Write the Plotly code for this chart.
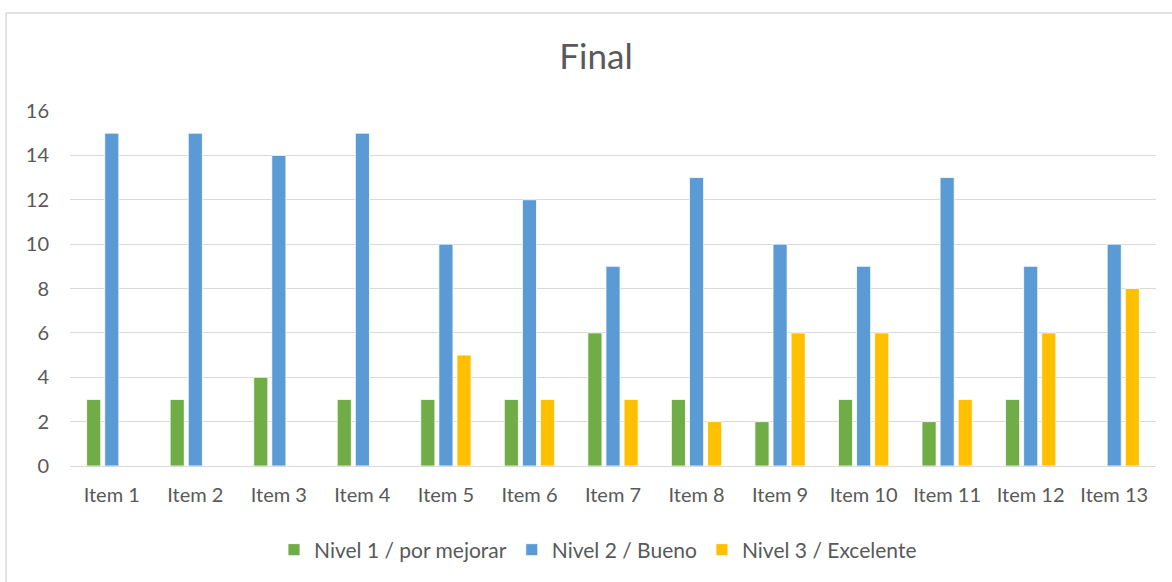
import plotly.graph_objects as go

categories = ["Item 1", "Item 2", "Item 3", "Item 4", "Item 5", "Item 6", "Item 7",
              "Item 8", "Item 9", "Item 10", "Item 11", "Item 12", "Item 13"]
nivel1 = [3, 3, 4, 3, 3, 3, 6, 3, 2, 3, 2, 3, None]
nivel2 = [15, 15, 14, 15, 10, 12, 9, 13, 10, 9, 13, 9, 10]
nivel3 = [None, None, None, None, 5, 3, 3, 2, 6, 6, 3, 6, 8]

names = ["Nivel 1 / por mejorar", "Nivel 2 / Bueno", "Nivel 3 / Excelente"]
colors = ["#70AD47", "#5B9BD5", "#FFC000"]

FONT = "Lato, 'Open Sans', sans-serif"
TXT = "#595959"

fig = go.Figure()
for name, vals, col in zip(names, [nivel1, nivel2, nivel3], colors):
    fig.add_trace(go.Bar(x=categories, y=vals, name=name, marker_color=col,
                         marker_line=dict(color="white", width=0.8)))

W, H = 1172, 582
L, R, T, B = 70, 16, 111, 116
pw, ph = W - L - R, H - T - B

def px(x):
    return (x - L) / pw

def py(y):
    return (H - B - y) / ph

fig.update_layout(
    width=W, height=H,
    margin=dict(l=L, r=R, t=T, b=B),
    paper_bgcolor="white", plot_bgcolor="white",
    barmode="group", bargap=0.35, bargroupgap=0.22,
    font=dict(family=FONT, color=TXT, size=20),
    title=dict(text="Final", x=596 / W, xanchor="center", xref="container",
               y=1 - 57 / H, yanchor="middle",
               font=dict(size=35, color=TXT, family=FONT)),
    legend=dict(orientation="h", x=px(598), xanchor="center", y=py(550), yanchor="middle",
                font=dict(size=21, color=TXT, family=FONT), traceorder="normal",
                itemwidth=30),
    xaxis=dict(showgrid=False, showline=False, ticks="", tickfont=dict(size=20),
               ticklabelstandoff=15),
    yaxis=dict(range=[0, 16], dtick=2, showgrid=True, gridcolor="#D9D9D9", gridwidth=1,
               zeroline=True, zerolinecolor="#D9D9D9", zerolinewidth=1,
               showline=False, ticks="", tickfont=dict(size=20), ticklabelstandoff=20),
    shapes=[
        dict(type="line", xref="paper", yref="paper", x0=px(6), x1=px(W + 5),
             y0=py(13), y1=py(13), line=dict(color="#D9D9D9", width=1.5)),
        dict(type="line", xref="paper", yref="paper", x0=px(6), x1=px(6),
             y0=py(13), y1=py(H + 5), line=dict(color="#D9D9D9", width=1.5)),
    ],
)

fig.write_html("out.html")
